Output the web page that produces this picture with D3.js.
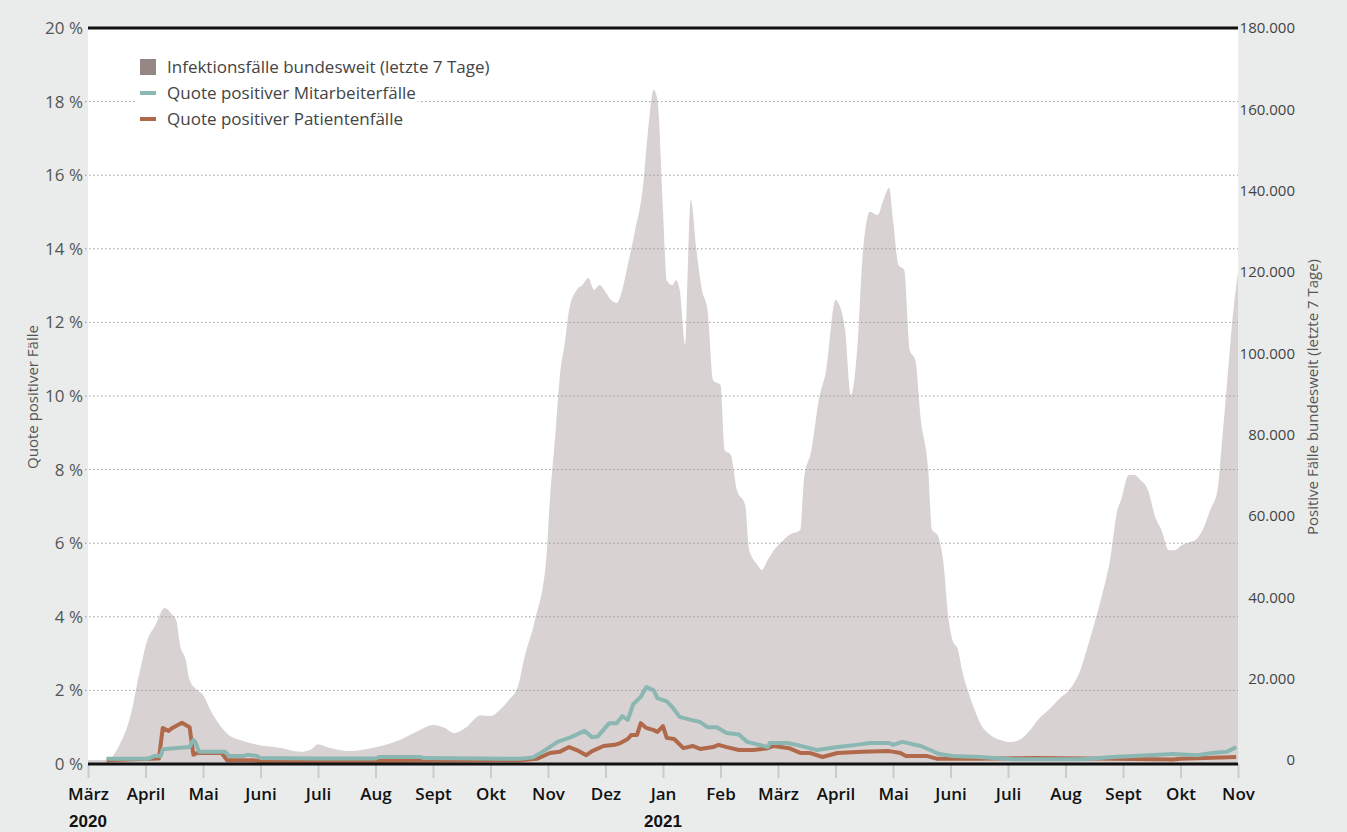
<!DOCTYPE html>
<html>
<head>
<meta charset="utf-8">
<script src="https://cdn.jsdelivr.net/npm/d3@7"></script>
<style>
  body { margin: 0; background: #e9eceb; }
  svg { display: block; font-family: "Open Sans", sans-serif; }
</style>
</head>
<body>
<svg width="1347" height="832"></svg>
<script>
// weekly-ish readings of the German 7-day case count (right axis)
const casesData = [
  ['2020-03-01', 0], ['2020-03-11', 0], ['2020-03-18', 3700], ['2020-03-24', 11000], ['2020-03-29', 22000],
  ['2020-04-02', 29500], ['2020-04-06', 33000], ['2020-04-11', 37400], ['2020-04-15', 35700], ['2020-04-17', 34400],
  ['2020-04-19', 28300], ['2020-04-22', 24600], ['2020-04-24', 19700], ['2020-04-28', 17200], ['2020-05-01', 16000],
  ['2020-05-05', 12300], ['2020-05-10', 8600], ['2020-05-15', 6100], ['2020-05-21', 4900], ['2020-05-31', 3700],
  ['2020-06-11', 3000], ['2020-06-22', 2000], ['2020-06-27', 2500], ['2020-07-01', 3900], ['2020-07-07', 3000],
  ['2020-07-18', 2200], ['2020-07-31', 3000], ['2020-08-14', 4900], ['2020-08-25', 7400], ['2020-09-01', 8600],
  ['2020-09-07', 7900], ['2020-09-12', 6600], ['2020-09-18', 7900], ['2020-09-26', 11000], ['2020-10-01', 10800],
  ['2020-10-06', 12300], ['2020-10-11', 14800], ['2020-10-16', 18400], ['2020-10-19', 24600], ['2020-10-25', 34400],
  ['2020-10-31', 49200], ['2020-11-02', 64000], ['2020-11-05', 81000], ['2020-11-07', 93400], ['2020-11-10', 103300],
  ['2020-11-12', 110700], ['2020-11-16', 115600], ['2020-11-19', 116800], ['2020-11-22', 118500], ['2020-11-25', 115600],
  ['2020-11-28', 116800], ['2020-12-01', 115100], ['2020-12-04', 113100], ['2020-12-07', 112400], ['2020-12-10', 115600],
  ['2020-12-13', 121700], ['2020-12-17', 130300], ['2020-12-21', 140200], ['2020-12-24', 154900], ['2020-12-27', 164800],
  ['2020-12-29', 162300], ['2021-01-01', 135200], ['2021-01-03', 118000], ['2021-01-06', 116800], ['2021-01-08', 118000],
  ['2021-01-10', 115600], ['2021-01-13', 102000], ['2021-01-14', 115600], ['2021-01-16', 137700], ['2021-01-19', 125400],
  ['2021-01-22', 115600], ['2021-01-25', 110700], ['2021-01-28', 93400], ['2021-02-01', 92200], ['2021-02-03', 76200],
  ['2021-02-06', 75000], ['2021-02-09', 66400], ['2021-02-13', 62700], ['2021-02-15', 51600], ['2021-02-19', 48000],
  ['2021-02-21', 46700], ['2021-02-24', 49200], ['2021-02-27', 51600], ['2021-03-04', 54100], ['2021-03-07', 55300],
  ['2021-03-13', 56600], ['2021-03-15', 68900], ['2021-03-19', 76200], ['2021-03-23', 88500], ['2021-03-27', 95900],
  ['2021-04-01', 113100], ['2021-04-03', 111900], ['2021-04-06', 105700], ['2021-04-09', 89800], ['2021-04-13', 105700],
  ['2021-04-15', 123000], ['2021-04-19', 134800], ['2021-04-23', 134000], ['2021-04-26', 137700], ['2021-04-29', 140700],
  ['2021-05-01', 132800], ['2021-05-04', 121700], ['2021-05-07', 120500], ['2021-05-10', 100800], ['2021-05-13', 98400],
  ['2021-05-16', 83600], ['2021-05-20', 71300], ['2021-05-22', 56600], ['2021-05-25', 55300], ['2021-05-28', 49200],
  ['2021-05-31', 34400], ['2021-06-02', 29500], ['2021-06-05', 27000], ['2021-06-07', 22100], ['2021-06-10', 17200],
  ['2021-06-14', 11800], ['2021-06-17', 8600], ['2021-06-22', 6100], ['2021-06-27', 4900], ['2021-07-02', 4400],
  ['2021-07-07', 4900], ['2021-07-13', 7400], ['2021-07-18', 10300], ['2021-07-24', 12800], ['2021-07-29', 15200],
  ['2021-08-03', 17200], ['2021-08-09', 22100], ['2021-08-14', 29500], ['2021-08-20', 39300], ['2021-08-25', 49200],
  ['2021-08-29', 61500], ['2021-08-31', 64000], ['2021-09-04', 70100], ['2021-09-07', 70100], ['2021-09-10', 68900],
  ['2021-09-14', 66400], ['2021-09-18', 59500], ['2021-09-21', 56600], ['2021-09-25', 51600], ['2021-09-28', 51600],
  ['2021-10-02', 52900], ['2021-10-05', 53400], ['2021-10-09', 54100], ['2021-10-13', 56600], ['2021-10-17', 61500],
  ['2021-10-21', 66400], ['2021-10-23', 76200], ['2021-10-26', 92200], ['2021-10-29', 108200], ['2021-11-01', 120000]
];

// Quote positiver Mitarbeiterfälle (%)
const staffData = [
  ['2020-03-11', 0.14], ['2020-04-02', 0.14], ['2020-04-06', 0.22], ['2020-04-09', 0.22], ['2020-04-10', 0.40],
  ['2020-04-16', 0.43], ['2020-04-24', 0.46], ['2020-04-26', 0.65], ['2020-04-27', 0.60], ['2020-04-29', 0.33],
  ['2020-05-13', 0.33], ['2020-05-15', 0.22], ['2020-05-23', 0.22], ['2020-05-25', 0.25], ['2020-05-30', 0.22],
  ['2020-06-01', 0.16], ['2020-07-01', 0.15], ['2020-08-01', 0.15], ['2020-08-03', 0.19], ['2020-08-25', 0.19],
  ['2020-08-27', 0.16], ['2020-10-17', 0.14], ['2020-10-24', 0.18], ['2020-10-29', 0.33], ['2020-11-06', 0.60],
  ['2020-11-13', 0.73], ['2020-11-20', 0.90], ['2020-11-24', 0.73], ['2020-11-27', 0.75], ['2020-12-03', 1.11],
  ['2020-12-07', 1.11], ['2020-12-10', 1.30], ['2020-12-13', 1.20], ['2020-12-16', 1.63], ['2020-12-20', 1.82],
  ['2020-12-23', 2.09], ['2020-12-27', 2.00], ['2020-12-29', 1.79], ['2021-01-03', 1.70], ['2021-01-06', 1.55],
  ['2021-01-10', 1.28], ['2021-01-16', 1.20], ['2021-01-21', 1.14], ['2021-01-25', 1.00], ['2021-01-30', 1.00],
  ['2021-02-04', 0.84], ['2021-02-10', 0.80], ['2021-02-14', 0.60], ['2021-02-20', 0.52], ['2021-02-24', 0.46],
  ['2021-02-25', 0.57], ['2021-03-06', 0.57], ['2021-03-11', 0.52], ['2021-03-22', 0.38], ['2021-04-02', 0.46],
  ['2021-04-12', 0.52], ['2021-04-19', 0.57], ['2021-04-29', 0.57], ['2021-05-01', 0.52], ['2021-05-06', 0.60],
  ['2021-05-16', 0.49], ['2021-05-21', 0.38], ['2021-05-26', 0.27], ['2021-06-02', 0.22], ['2021-06-16', 0.19],
  ['2021-07-04', 0.13], ['2021-08-09', 0.13], ['2021-08-27', 0.19], ['2021-09-27', 0.27], ['2021-10-10', 0.24],
  ['2021-10-18', 0.30], ['2021-10-26', 0.33], ['2021-10-31', 0.46]
];

// Quote positiver Patientenfälle (%)
const patientData = [
  ['2020-03-11', 0.10], ['2020-04-08', 0.15], ['2020-04-10', 0.98], ['2020-04-13', 0.90], ['2020-04-15', 0.98],
  ['2020-04-20', 1.12], ['2020-04-24', 1.00], ['2020-04-26', 0.25], ['2020-04-28', 0.30], ['2020-05-11', 0.30],
  ['2020-05-14', 0.10], ['2020-05-28', 0.10], ['2020-06-01', 0.08], ['2020-08-01', 0.08], ['2020-10-17', 0.10],
  ['2020-10-26', 0.14], ['2020-11-02', 0.30], ['2020-11-07', 0.33], ['2020-11-12', 0.46], ['2020-11-16', 0.38],
  ['2020-11-21', 0.24], ['2020-11-24', 0.35], ['2020-11-30', 0.49], ['2020-12-06', 0.52], ['2020-12-09', 0.57],
  ['2020-12-13', 0.68], ['2020-12-15', 0.79], ['2020-12-18', 0.79], ['2020-12-20', 1.11], ['2020-12-23', 0.98],
  ['2020-12-27', 0.92], ['2020-12-29', 0.87], ['2021-01-01', 1.03], ['2021-01-03', 0.71], ['2021-01-07', 0.68],
  ['2021-01-12', 0.43], ['2021-01-17', 0.49], ['2021-01-21', 0.41], ['2021-01-28', 0.46], ['2021-01-31', 0.52],
  ['2021-02-04', 0.46], ['2021-02-10', 0.38], ['2021-02-17', 0.38], ['2021-02-24', 0.43], ['2021-02-27', 0.49],
  ['2021-03-07', 0.43], ['2021-03-13', 0.30], ['2021-03-18', 0.30], ['2021-03-25', 0.19], ['2021-04-02', 0.30],
  ['2021-04-15', 0.33], ['2021-04-29', 0.35], ['2021-05-05', 0.30], ['2021-05-08', 0.22], ['2021-05-19', 0.22],
  ['2021-05-25', 0.14], ['2021-06-16', 0.14], ['2021-07-15', 0.16], ['2021-08-26', 0.14], ['2021-09-27', 0.12],
  ['2021-10-01', 0.14], ['2021-10-31', 0.19]
];

const monthLabels = ['März', 'April', 'Mai', 'Juni', 'Juli', 'Aug', 'Sept', 'Okt', 'Nov', 'Dez',
  'Jan', 'Feb', 'März', 'April', 'Mai', 'Juni', 'Juli', 'Aug', 'Sept', 'Okt', 'Nov'];
const yearLabels = [['2020', 0], ['2021', 10]];
const pctTicks = [0, 2, 4, 6, 8, 10, 12, 14, 16, 18, 20];
const caseTicks = [0, 20000, 40000, 60000, 80000, 100000, 120000, 140000, 160000, 180000];
const legendItems = [
  { label: 'Infektionsfälle bundesweit (letzte 7 Tage)', type: 'box', color: '#968787' },
  { label: 'Quote positiver Mitarbeiterfälle', type: 'line', color: '#8bb7b3' },
  { label: 'Quote positiver Patientenfälle', type: 'line', color: '#b0694b' }
];

const svg = d3.select('svg');
const margin = { left: 88, right: 109, top: 28, bottom: 68 };
const width = +svg.attr('width');
const height = +svg.attr('height');
const plotW = width - margin.left - margin.right;
const plotBottom = height - margin.bottom;
const parse = d3.timeParse('%Y-%m-%d');

// every month gets the same width in the original
const months = d3.timeMonth.range(new Date(2020, 2, 1), new Date(2021, 10, 2));
const x = d3.scaleTime()
  .domain(months)
  .range(months.map((d, i) => margin.left + i * plotW / (months.length - 1)));

const yPct = d3.scaleLinear().domain([0, 20]).range([plotBottom, margin.top]);
const yCases = d3.scaleLinear().domain([0, 180000]).range([plotBottom - 4, margin.top]);

svg.append('rect')
  .attr('x', margin.left)
  .attr('y', margin.top)
  .attr('width', plotW)
  .attr('height', plotBottom - margin.top)
  .attr('fill', '#fff');

// area
const area = d3.area()
  .x(d => x(parse(d[0])))
  .y0(plotBottom)
  .y1(d => yCases(d[1]))
  .curve(d3.curveMonotoneX);

svg.append('path')
  .datum(casesData)
  .attr('d', area)
  .attr('fill', '#d8d2d2');

// dotted grid
svg.append('g')
  .selectAll('line')
  .data(pctTicks.filter(t => t > 0 && t < 20))
  .join('line')
    .attr('x1', margin.left - 3)
    .attr('x2', margin.left + plotW)
    .attr('y1', d => yPct(d))
    .attr('y2', d => yPct(d))
    .attr('stroke', '#9a9a9a')
    .attr('stroke-width', 1)
    .attr('stroke-dasharray', '1.5,2.5');

// lines
const line = d3.line()
  .x(d => x(parse(d[0])))
  .y(d => yPct(d[1]));

svg.append('path')
  .datum(patientData)
  .attr('d', line)
  .attr('fill', 'none')
  .attr('stroke', legendItems[2].color)
  .attr('stroke-width', 4)
  .attr('stroke-linejoin', 'round');

svg.append('path')
  .datum(staffData)
  .attr('d', line)
  .attr('fill', 'none')
  .attr('stroke', legendItems[1].color)
  .attr('stroke-width', 4)
  .attr('stroke-linejoin', 'round');

// top and bottom black rules
svg.append('line')
  .attr('x1', margin.left).attr('x2', margin.left + plotW)
  .attr('y1', margin.top).attr('y2', margin.top)
  .attr('stroke', '#111').attr('stroke-width', 3);

// x axis
const xAxis = svg.append('g')
  .attr('transform', `translate(0, ${plotBottom})`)
  .call(d3.axisBottom(x)
    .tickValues(months)
    .tickFormat((d, i) => monthLabels[i])
    .tickSize(14)
    .tickPadding(10));

xAxis.select('.domain').remove();
xAxis.selectAll('.tick line')
  .attr('stroke', '#c9cccb')
  .attr('stroke-width', 2);
xAxis.selectAll('.tick text')
  .attr('font-family', '"Open Sans", sans-serif')
  .attr('font-size', 17)
  .attr('font-weight', 600)
  .attr('fill', '#111');

xAxis.selectAll('.year')
  .data(yearLabels)
  .join('text')
    .attr('class', 'year')
    .attr('x', d => x(months[d[1]]))
    .attr('y', 63)
    .attr('text-anchor', 'middle')
    .attr('font-size', 17)
    .attr('font-weight', 600)
    .attr('fill', '#111')
    .text(d => d[0]);

svg.append('line')
  .attr('x1', margin.left).attr('x2', margin.left + plotW)
  .attr('y1', plotBottom).attr('y2', plotBottom)
  .attr('stroke', '#111').attr('stroke-width', 3);

// left axis
svg.append('g')
  .selectAll('text')
  .data(pctTicks)
  .join('text')
    .attr('x', margin.left - 5)
    .attr('y', d => yPct(d))
    .attr('dy', '0.35em')
    .attr('text-anchor', 'end')
    .attr('font-size', 17)
    .attr('fill', '#555')
    .text(d => `${d} %`);

// right axis
const fmt = d3.formatLocale({ decimal: ',', thousands: '.', grouping: [3], currency: ['', '€'] }).format(',');
svg.append('g')
  .selectAll('text')
  .data(caseTicks)
  .join('text')
    .attr('x', 1295)
    .attr('y', d => yCases(d))
    .attr('dy', '0.35em')
    .attr('text-anchor', 'end')
    .attr('font-size', 15)
    .attr('fill', '#444')
    .text(d => fmt(d));

// axis titles
svg.append('text')
  .attr('transform', `translate(38, 397) rotate(-90)`)
  .attr('text-anchor', 'middle')
  .attr('font-size', 15)
  .attr('fill', '#555')
  .text('Quote positiver Fälle');

svg.append('text')
  .attr('transform', `translate(1318, 397) rotate(-90)`)
  .attr('text-anchor', 'middle')
  .attr('font-size', 15)
  .attr('fill', '#555')
  .text('Positive Fälle bundesweit (letzte 7 Tage)');

// legend (white boxes hide the grid behind each entry)
const legend = svg.append('g')
  .attr('transform', 'translate(140, 67)');

const item = legend.selectAll('g')
  .data(legendItems)
  .join('g')
    .attr('transform', (d, i) => `translate(0, ${i * 26})`);

const bg = item.append('rect')
  .attr('fill', '#fff');

item.filter(d => d.type === 'box')
  .append('rect')
    .attr('x', 0).attr('y', -8)
    .attr('width', 16).attr('height', 16)
    .attr('fill', d => d.color);

item.filter(d => d.type === 'line')
  .append('rect')
    .attr('x', 0).attr('y', -2)
    .attr('width', 16).attr('height', 4)
    .attr('fill', d => d.color);

item.append('text')
  .attr('x', 27)
  .attr('dy', '0.35em')
  .attr('font-size', 17)
  .attr('fill', '#444')
  .text(d => d.label);

bg.each(function () {
  const w = this.parentNode.querySelector('text').getComputedTextLength();
  d3.select(this)
    .attr('x', -4).attr('y', -13)
    .attr('width', 27 + w + 6).attr('height', 26);
});
</script>
</body>
</html>
